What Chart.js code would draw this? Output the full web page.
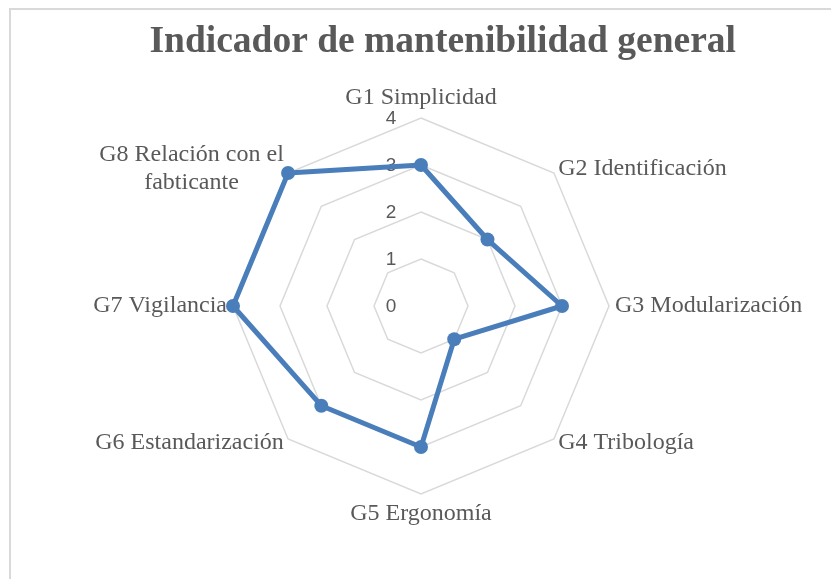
<!DOCTYPE html>
<html>
<head>
<meta charset="utf-8">
<script src="https://cdn.jsdelivr.net/npm/chart.js@4/dist/chart.umd.min.js"></script>
<style>
html,body{margin:0;padding:0;background:#fff;overflow:hidden;}
#wrap{position:relative;width:831px;height:579px;overflow:hidden;}
#frame{position:absolute;left:9px;top:8px;width:900px;height:700px;border-left:2px solid #d9d9d9;border-top:2px solid #d9d9d9;}
#c{position:absolute;left:0;top:0;}
</style>
</head>
<body>
<div id="wrap"><div id="frame"></div><canvas id="c" width="831" height="579"></canvas></div>
<script>
// ---- data ----
const categories = [
  'G1 Simplicidad',
  'G2 Identificación',
  'G3 Modularización',
  'G4 Tribología',
  'G5 Ergonomía',
  'G6 Estandarización',
  'G7 Vigilancia',
  ['G8 Relación con el', 'fabticante']
];
const values = [3, 2, 3, 1, 3, 3, 4, 4];
const tickValues = [0, 1, 2, 3, 4];
const titleText = 'Indicador de mantenibilidad general';

// ---- style ----
const textColor = '#595959';
const lineColor = '#4a7ebb';
const gridColor = '#d9d9d9';

const labelPlugin = {
  id: 'customLabels',
  beforeDatasetsDraw(chart) {
    const scale = chart.scales.r;
    const ctx = chart.ctx;
    ctx.save();
    // tick labels
    ctx.font = '19px "Liberation Sans", Arial, sans-serif';
    ctx.fillStyle = textColor;
    ctx.textAlign = 'center';
    ctx.textBaseline = 'middle';
    scale.ticks.forEach(t => {
      const p = scale.getPointPositionForValue(0, t.value);
      ctx.fillText(t.label, scale.xCenter - 30, p.y + 1);
    });
    // point labels
    ctx.font = '24px "Liberation Serif", "Times New Roman", serif';
    const lh = 28;
    const labels = chart.data.labels;
    labels.forEach((lab, i) => {
      const lines = Array.isArray(lab) ? lab : [lab];
      const pos = scale.getPointPosition(i, scale.drawingArea + 6);
      const w = Math.max(...lines.map(l => ctx.measureText(l).width));
      const dx = pos.x - scale.xCenter;
      const dy = pos.y - scale.yCenter;
      let cx;
      if (Math.abs(dx) < 2) cx = pos.x;
      else if (dx > 0) cx = pos.x + w / 2;
      else cx = pos.x - w / 2;
      const h = lines.length * lh;
      let topY;
      if (Math.abs(dx) < 2 && dy < 0) topY = pos.y - h;
      else if (Math.abs(dx) < 2 && dy > 0) topY = pos.y;
      else topY = pos.y - h / 2;
      ctx.textAlign = 'center';
      ctx.textBaseline = 'middle';
      lines.forEach((l, k) => {
        ctx.fillText(l, cx, topY + lh / 2 + k * lh);
      });
    });
    ctx.restore();
  }
};

new Chart(document.getElementById('c'), {
  type: 'radar',
  data: {
    labels: categories,
    datasets: [{
      label: 'Indicador',
      data: values,
      borderColor: lineColor,
      backgroundColor: lineColor,
      fill: false,
      borderWidth: 5,
      borderJoinStyle: 'round',
      pointRadius: 7,
      pointHoverRadius: 7,
      pointBackgroundColor: lineColor,
      pointBorderColor: lineColor,
      pointBorderWidth: 0
    }]
  },
  options: {
    responsive: false,
    animation: false,
    devicePixelRatio: 1,
    layout: { padding: { top: 20, left: 106, right: 95, bottom: 85 } },
    plugins: {
      legend: { display: false },
      tooltip: { enabled: false },
      title: {
        display: true,
        text: titleText,
        align: 'end',
        color: textColor,
        font: { family: '"Liberation Serif", "Times New Roman", serif', size: 37.5, weight: 'bold', lineHeight: 1.2 },
        padding: { top: 0, bottom: 53 }
      }
    },
    scales: {
      r: {
        min: 0,
        max: 4,
        afterBuildTicks: s => { s.ticks = tickValues.map(v => ({ value: v })); },
        ticks: { display: false, stepSize: 1 },
        pointLabels: { display: false },
        grid: { color: gridColor, lineWidth: 1.5, circular: false },
        angleLines: { display: false }
      }
    }
  },
  plugins: [labelPlugin]
});
</script>
</body>
</html>
